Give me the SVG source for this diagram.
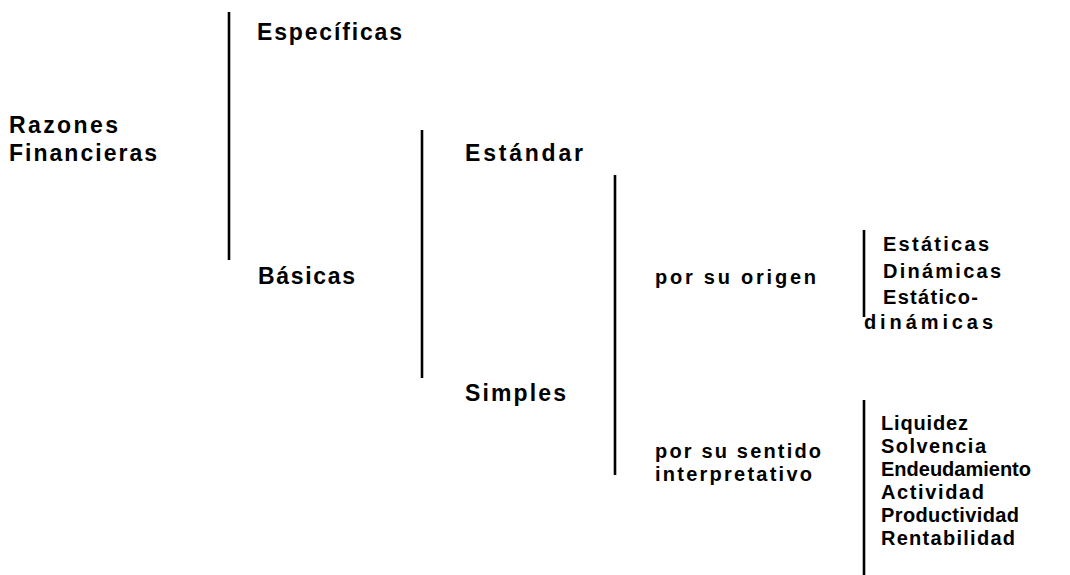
<svg xmlns="http://www.w3.org/2000/svg" width="1070" height="575" viewBox="0 0 1070 575">
  <style>
    .t { font-family: "Liberation Sans", Arial, sans-serif; font-weight: bold; fill: #000; }
    .l { font-size: 23px; }
    .m { font-size: 20px; }
    .s { font-size: 20px; }
    .br { stroke: #000; stroke-width: 2.6; fill: none; }
  </style>
  <rect width="1070" height="575" fill="#fff"/>
  <g id="connectors">
    <line class="br" x1="229" y1="12" x2="229" y2="260"/>
    <line class="br" x1="422" y1="130" x2="422" y2="378"/>
    <line class="br" x1="615" y1="175" x2="615" y2="475"/>
    <line class="br" x1="864" y1="230" x2="864" y2="317"/>
    <line class="br" x1="864" y1="400" x2="864" y2="575"/>
  </g>
  <g id="razones">
    <text class="t l" x="9" y="133" textLength="109" lengthAdjust="spacing">Razones</text>
    <text class="t l" x="9" y="161" textLength="148" lengthAdjust="spacing">Financieras</text>
  </g>
  <g id="especificas">
    <text class="t l" x="257" y="40" textLength="145" lengthAdjust="spacing">Específicas</text>
  </g>
  <g id="basicas">
    <text class="t l" x="258" y="284" textLength="97" lengthAdjust="spacing">Básicas</text>
  </g>
  <g id="estandar">
    <text class="t l" x="465" y="161" textLength="118" lengthAdjust="spacing">Estándar</text>
  </g>
  <g id="simples">
    <text class="t l" x="465" y="401" textLength="101" lengthAdjust="spacing">Simples</text>
  </g>
  <g id="origen">
    <text class="t m" x="655" y="284" textLength="161" lengthAdjust="spacing">por su origen</text>
  </g>
  <g id="sentido">
    <text class="t m" x="655" y="458" textLength="166" lengthAdjust="spacing">por su sentido</text>
    <text class="t m" x="655" y="481" textLength="157" lengthAdjust="spacing">interpretativo</text>
  </g>
  <g id="origen-tipos">
    <text class="t s" x="883" y="251" textLength="106" lengthAdjust="spacing">Estáticas</text>
    <text class="t s" x="883" y="278" textLength="118" lengthAdjust="spacing">Dinámicas</text>
    <text class="t s" x="883" y="304" textLength="95" lengthAdjust="spacing">Estático-</text>
    <text class="t s" x="864" y="329" textLength="129" lengthAdjust="spacing">dinámicas</text>
  </g>
  <g id="sentido-tipos">
    <text class="t s" x="881" y="430" textLength="87" lengthAdjust="spacing">Liquidez</text>
    <text class="t s" x="881" y="453" textLength="105" lengthAdjust="spacing">Solvencia</text>
    <text class="t s" x="881" y="476" textLength="150" lengthAdjust="spacing">Endeudamiento</text>
    <text class="t s" x="881" y="499" textLength="103" lengthAdjust="spacing">Actividad</text>
    <text class="t s" x="881" y="522" textLength="138" lengthAdjust="spacing">Productividad</text>
    <text class="t s" x="881" y="545" textLength="134" lengthAdjust="spacing">Rentabilidad</text>
  </g>
</svg>
